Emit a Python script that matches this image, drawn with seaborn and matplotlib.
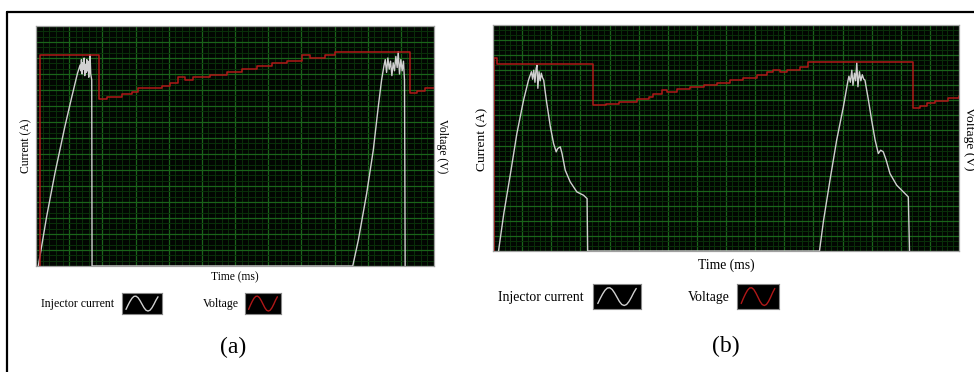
import matplotlib
matplotlib.use('Agg')
import matplotlib.pyplot as plt
from matplotlib.lines import Line2D
from matplotlib.ticker import MultipleLocator
import seaborn as sns

# values in scope grid units (x = time divisions, y = vertical divisions)
# panel (a)
A_CUR_X = [0.07, 0.32, 0.57, 0.87, 1.08, 1.25,
           1.33, 1.35, 1.37, 1.39, 1.41, 1.43, 1.45, 1.47, 1.49, 1.51, 1.53, 1.55, 1.57, 1.59, 1.61, 1.63, 1.65,
           1.68, 1.69,
           9.55, 9.72, 9.97, 10.17, 10.32, 10.42,
           10.49, 10.53, 10.57, 10.61, 10.65, 10.69, 10.73, 10.77, 10.81, 10.85, 10.89, 10.92, 10.96, 11.00, 11.04, 11.08,
           11.11, 11.12, 11.13]
A_CUR_Y = [0, 3.08, 5.79, 8.71, 10.58, 12.04,
           12.56, 12.2, 12.9, 12.0, 12.7, 12.3, 13.0, 11.9, 12.6, 12.1, 12.9, 12.2, 12.8, 11.8, 12.5, 13.2, 12.0,
           11.63, 0,
           0, 1.63, 4.54, 7.25, 9.96, 11.63,
           12.5, 12.9, 12.1, 13.0, 12.3, 12.8, 11.9, 12.7, 12.2, 13.1, 12.4, 13.4, 12.0, 12.9, 12.2, 12.8,
           11.63, 6.42, 0]
A_VOLT_X = [0.12, 0.12, 1.91, 2.13, 2.58, 2.88, 3.09, 3.79, 4.04, 4.29, 4.49, 4.74, 5.25, 5.75, 6.20, 6.65,
            7.11, 7.56, 8.01, 8.26, 8.71, 9.02, 11.28, 11.48, 11.73, 12.0]
A_VOLT_Y = [0, 13.19, 10.44, 10.58, 10.73, 10.90, 11.10, 11.25, 11.42, 11.79, 11.63, 11.79, 11.94, 12.15, 12.31, 12.50,
            12.67, 12.83, 13.19, 13.02, 13.19, 13.35, 10.79, 10.96, 11.15, 11.15]

# panel (b)
B_CUR_X = [0.19, 0.37, 0.60, 0.82, 1.05, 1.22,
           1.32, 1.36, 1.40, 1.44, 1.48, 1.51, 1.54, 1.58, 1.62, 1.66, 1.70,
           1.74, 1.83, 1.97, 2.08, 2.17, 2.22, 2.31, 2.37, 2.48, 2.65, 2.88, 3.11, 3.23, 3.25,
           11.21, 11.35, 11.57, 11.80, 12.03, 12.18,
           12.22, 12.27, 12.32, 12.36, 12.41, 12.45, 12.49, 12.53, 12.58, 12.63, 12.68, 12.73,
           12.77, 12.89, 13.00, 13.12, 13.23, 13.31, 13.40, 13.50, 13.63, 13.86, 14.09, 14.26, 14.30]
B_CUR_Y = [0, 2.48, 5.14, 7.80, 10.02, 11.35,
           11.9, 11.4, 12.0, 11.2, 12.1, 12.34, 10.8, 11.9, 11.3, 11.8, 11.5,
           11.35, 10.02, 8.24, 7.13, 6.58, 6.80, 6.91, 6.47, 5.36, 4.59, 3.92, 3.70, 3.48, 0,
           0, 2.04, 4.70, 7.36, 9.57, 11.23,
           11.6, 11.2, 12.0, 11.0, 11.8, 11.3, 12.5, 10.9, 11.9, 11.3, 11.7, 11.4,
           11.35, 10.02, 8.69, 7.36, 6.47, 6.69, 6.58, 6.03, 5.14, 4.37, 3.92, 3.59, 0]
B_VOLT_X = [0.05, 0.05, 0.14, 3.42, 3.89, 4.31, 4.94, 5.34, 5.51, 5.80, 5.97, 6.31, 6.77, 7.23, 7.69, 8.14,
            8.60, 9.06, 9.40, 9.63, 9.86, 10.09, 10.54, 10.80, 14.43, 14.66, 14.89, 15.18, 15.63, 16.0]
B_VOLT_Y = [0, 12.79, 12.39, 9.68, 9.75, 9.90, 10.08, 10.24, 10.39, 10.68, 10.57, 10.72, 10.86, 11.01, 11.17, 11.34,
            11.50, 11.68, 11.85, 12.01, 11.85, 12.01, 12.23, 12.52, 9.51, 9.62, 9.79, 9.95, 10.13, 10.28]

# little wave drawn in the legend boxes
ICON_X = [0.10, 0.15, 0.20, 0.25, 0.30, 0.35, 0.40, 0.45, 0.50, 0.55, 0.60, 0.65, 0.70, 0.75, 0.80, 0.85, 0.90]
ICON_Y = [0.22, 0.42, 0.60, 0.75, 0.84, 0.85, 0.78, 0.64, 0.47, 0.30, 0.18, 0.14, 0.18, 0.30, 0.47, 0.66, 0.82]

CUR_COLOR = '#d0d0d0'
VOLT_COLOR = '#b01818'

sns.set_theme(style='white', rc={'text.color': 'black'})
plt.rcParams['font.family'] = ['Liberation Serif', 'DejaVu Serif']


def draw_scope(fig, rect, cur_x, cur_y, volt_x, volt_y, xmax):
    ax = fig.add_axes(rect)
    ax.set_facecolor('#020602')
    ax.set_xlim(0, xmax)
    ax.set_ylim(0, 15)
    ax.xaxis.set_major_locator(MultipleLocator(1))
    ax.xaxis.set_minor_locator(MultipleLocator(0.2))
    ax.yaxis.set_major_locator(MultipleLocator(1))
    ax.yaxis.set_minor_locator(MultipleLocator(1 / 3))
    ax.grid(which='major', color='#1a641a', lw=0.9)
    ax.grid(which='minor', color='#0a300a', lw=0.7)
    ax.set_axisbelow(True)
    ax.tick_params(which='both', length=0, labelleft=False, labelbottom=False)
    sns.lineplot(x=cur_x, y=cur_y, ax=ax, sort=False, estimator=None, color=CUR_COLOR, lw=1.0)
    ax2 = ax.twinx()
    sns.lineplot(x=volt_x, y=volt_y, ax=ax2, sort=False, estimator=None, color=VOLT_COLOR, lw=1.1,
                 drawstyle='steps-post')
    ax2.set_ylim(0, 15)
    ax.set_xlim(0, xmax)
    ax2.set_yticks([])
    for a in (ax, ax2):
        a.set_xlabel('')
        a.set_ylabel('')
        for s in a.spines.values():
            s.set_color('#a0a0a0')
            s.set_linewidth(0.8)
    return ax


def draw_icon(fig, rect, color):
    ax = fig.add_axes(rect)
    ax.set_facecolor('black')
    sns.lineplot(x=ICON_X, y=ICON_Y, ax=ax, sort=False, estimator=None, color=color, lw=1.0)
    ax.set_xlim(0, 1)
    ax.set_ylim(0, 1)
    ax.set_xticks([])
    ax.set_yticks([])
    ax.set_xlabel('')
    ax.set_ylabel('')
    for s in ax.spines.values():
        s.set_color('#888888')
        s.set_linewidth(0.8)


W, H = 974, 372
fig = plt.figure(figsize=(W / 100, H / 100), dpi=100)
fig.patch.set_facecolor('white')


def fx(px):
    return px / W


def fy(py):
    return 1 - py / H


# panel (a)
draw_scope(fig, [fx(36), fy(266), fx(434 - 36), (266 - 26) / H], A_CUR_X, A_CUR_Y, A_VOLT_X, A_VOLT_Y, 12)
fig.text(fx(26), fy(146), 'Current (A)', rotation=90, ha='center', va='center', fontsize=8.4)
fig.text(fx(442), fy(146), 'Voltage (V)', rotation=270, ha='center', va='center', fontsize=8.4)
fig.text(fx(235), fy(277), 'Time (ms)', ha='center', va='center', fontsize=8.3)
fig.text(fx(41), fy(304), 'Injector current', ha='left', va='center', fontsize=8.5)
draw_icon(fig, [fx(122), fy(314), fx(40), 21 / H], CUR_COLOR)
fig.text(fx(203), fy(304), 'Voltage', ha='left', va='center', fontsize=8.5)
draw_icon(fig, [fx(245), fy(314), fx(36), 21 / H], VOLT_COLOR)
fig.text(fx(233), fy(347), '(a)', ha='center', va='center', fontsize=17)

# panel (b)
draw_scope(fig, [fx(493), fy(251), fx(959 - 493), (251 - 25) / H], B_CUR_X, B_CUR_Y, B_VOLT_X, B_VOLT_Y, 16)
fig.text(fx(482), fy(139), 'Current (A)', rotation=90, ha='center', va='center', fontsize=9.7)
fig.text(fx(969), fy(139), 'Voltage (V)', rotation=270, ha='center', va='center', fontsize=9.7)
fig.text(fx(726), fy(265), 'Time (ms)', ha='center', va='center', fontsize=9.8)
fig.text(fx(498), fy(298), 'Injector current', ha='left', va='center', fontsize=9.9)
draw_icon(fig, [fx(593), fy(309), fx(48), 25 / H], CUR_COLOR)
fig.text(fx(688), fy(298), 'Voltage', ha='left', va='center', fontsize=9.9)
draw_icon(fig, [fx(737), fy(309), fx(42), 25 / H], VOLT_COLOR)
fig.text(fx(726), fy(346), '(b)', ha='center', va='center', fontsize=17)

# outer frame (top and left edges visible)
fig.add_artist(Line2D([fx(7), 1.0], [fy(12), fy(12)], transform=fig.transFigure, color='black', lw=1.6))
fig.add_artist(Line2D([fx(7), fx(7)], [fy(12), 0.0], transform=fig.transFigure, color='black', lw=1.6))

fig.savefig('out.png', dpi=100)
